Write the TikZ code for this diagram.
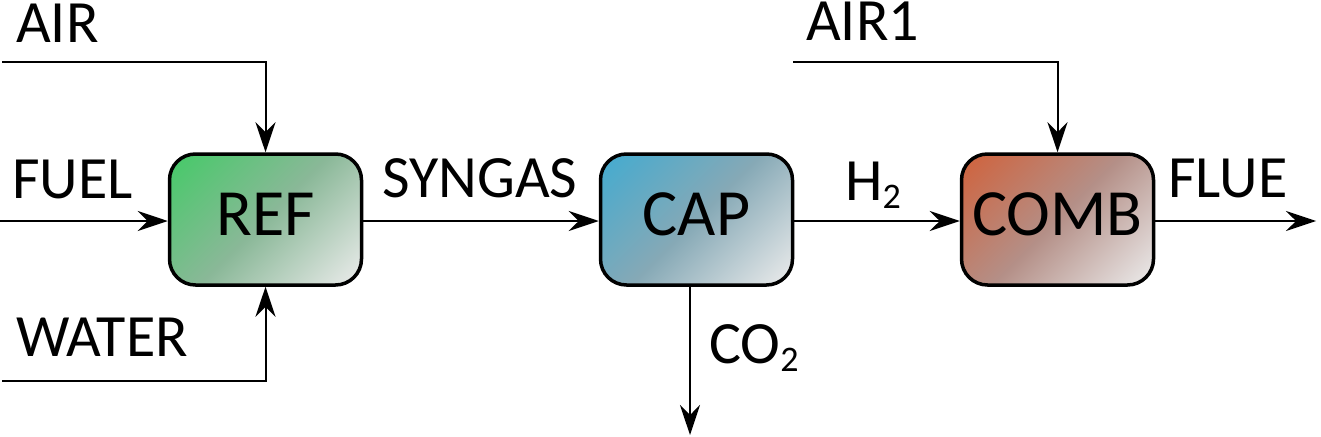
\documentclass[tikz,border=0pt]{standalone}
\usepackage{fontspec}
\setmainfont{Carlito}
\usetikzlibrary{arrows.meta}
\definecolor{refc}{HTML}{45CA68}
\definecolor{refm}{HTML}{8AB898}
\definecolor{capc}{HTML}{43ABD0}
\definecolor{capm}{HTML}{86A9B6}
\definecolor{combc}{HTML}{D0623C}
\definecolor{combm}{HTML}{B48F87}
\definecolor{endc}{HTML}{ECECEC}
\pgfdeclarehorizontalshading{refsh}{100bp}{color(0bp)=(refc); color(15bp)=(refc); color(50bp)=(refm); color(85bp)=(endc); color(100bp)=(endc)}
\pgfdeclarehorizontalshading{capsh}{100bp}{color(0bp)=(capc); color(15bp)=(capc); color(50bp)=(capm); color(85bp)=(endc); color(100bp)=(endc)}
\pgfdeclarehorizontalshading{combsh}{100bp}{color(0bp)=(combc); color(15bp)=(combc); color(50bp)=(combm); color(85bp)=(endc); color(100bp)=(endc)}
\tikzset{
  unitbox/.style={draw=black, line width=3.5pt, rounded corners=26pt,
    minimum width=192pt, minimum height=131pt, inner sep=0pt,
    font=\fontsize{66}{72}\selectfont, text depth=10pt},
  refshade/.style={shading=refsh, shading angle=-45},
  capshade/.style={shading=capsh, shading angle=-45},
  combshade/.style={shading=combsh, shading angle=-45},
  flow/.style={line width=2pt, -{Stealth[length=30pt, width=20pt, inset=10pt]}},
  lbl/.style={anchor=base west, inner sep=0pt, text height=34pt, font=\fontsize{60}{64}\selectfont},
}
\newcommand{\subtwo}{{\fontsize{36}{36}\selectfont\raisebox{-8pt}{2}}}
\begin{document}
\begin{tikzpicture}[x=1pt, y=-1pt]
\useasboundingbox (0,0) rectangle (1321,436);
% boxes
\node[unitbox, refshade] (REF) at (265.5,219.5) {REF};
\node[unitbox, capshade] (CAP) at (696.5,219.5) {CAP};
\node[unitbox, combshade] (COMB) at (1057.5,219.5) {COMB};
% free ends
\coordinate (fuelS) at (0,221);
\coordinate (airS) at (2,62);
\coordinate (waterS) at (2,381);
\coordinate (air1S) at (793,62);
\coordinate (flueE) at (1316,221);
\coordinate (co2E) at (690,435);
% connectors
\draw[flow] (fuelS) -- (fuelS -| REF.west);
\draw[flow] (airS) -| (REF.north);
\draw[flow] (waterS) -| (REF.south);
\draw[flow] (REF.east |- fuelS) -- (CAP.west |- fuelS);
\draw[flow] (CAP.east |- fuelS) -- (COMB.west |- fuelS);
\draw[flow] (air1S) -| (COMB.north);
\draw[flow] (COMB.east |- flueE) -- (flueE);
\draw[flow] (co2E |- CAP.south) -- (co2E);
% labels
\node[lbl] (lair) at (16,42) {AIR};
\node[lbl] (lfuel) at (12,198) {FUEL};
\node[lbl] (lwater) at (16,356) {WATER};
\node[lbl] (lsyn) at (382,197) {SYNGAS};
\node[lbl] (lh2) at (845,200) {H\subtwo};
\node[lbl] (lair1) at (806,41) {AIR1};
\node[lbl] (lflue) at (1168,197) {FLUE};
\node[lbl] (lco2) at (709,363) {CO\subtwo};
\end{tikzpicture}
\end{document}
